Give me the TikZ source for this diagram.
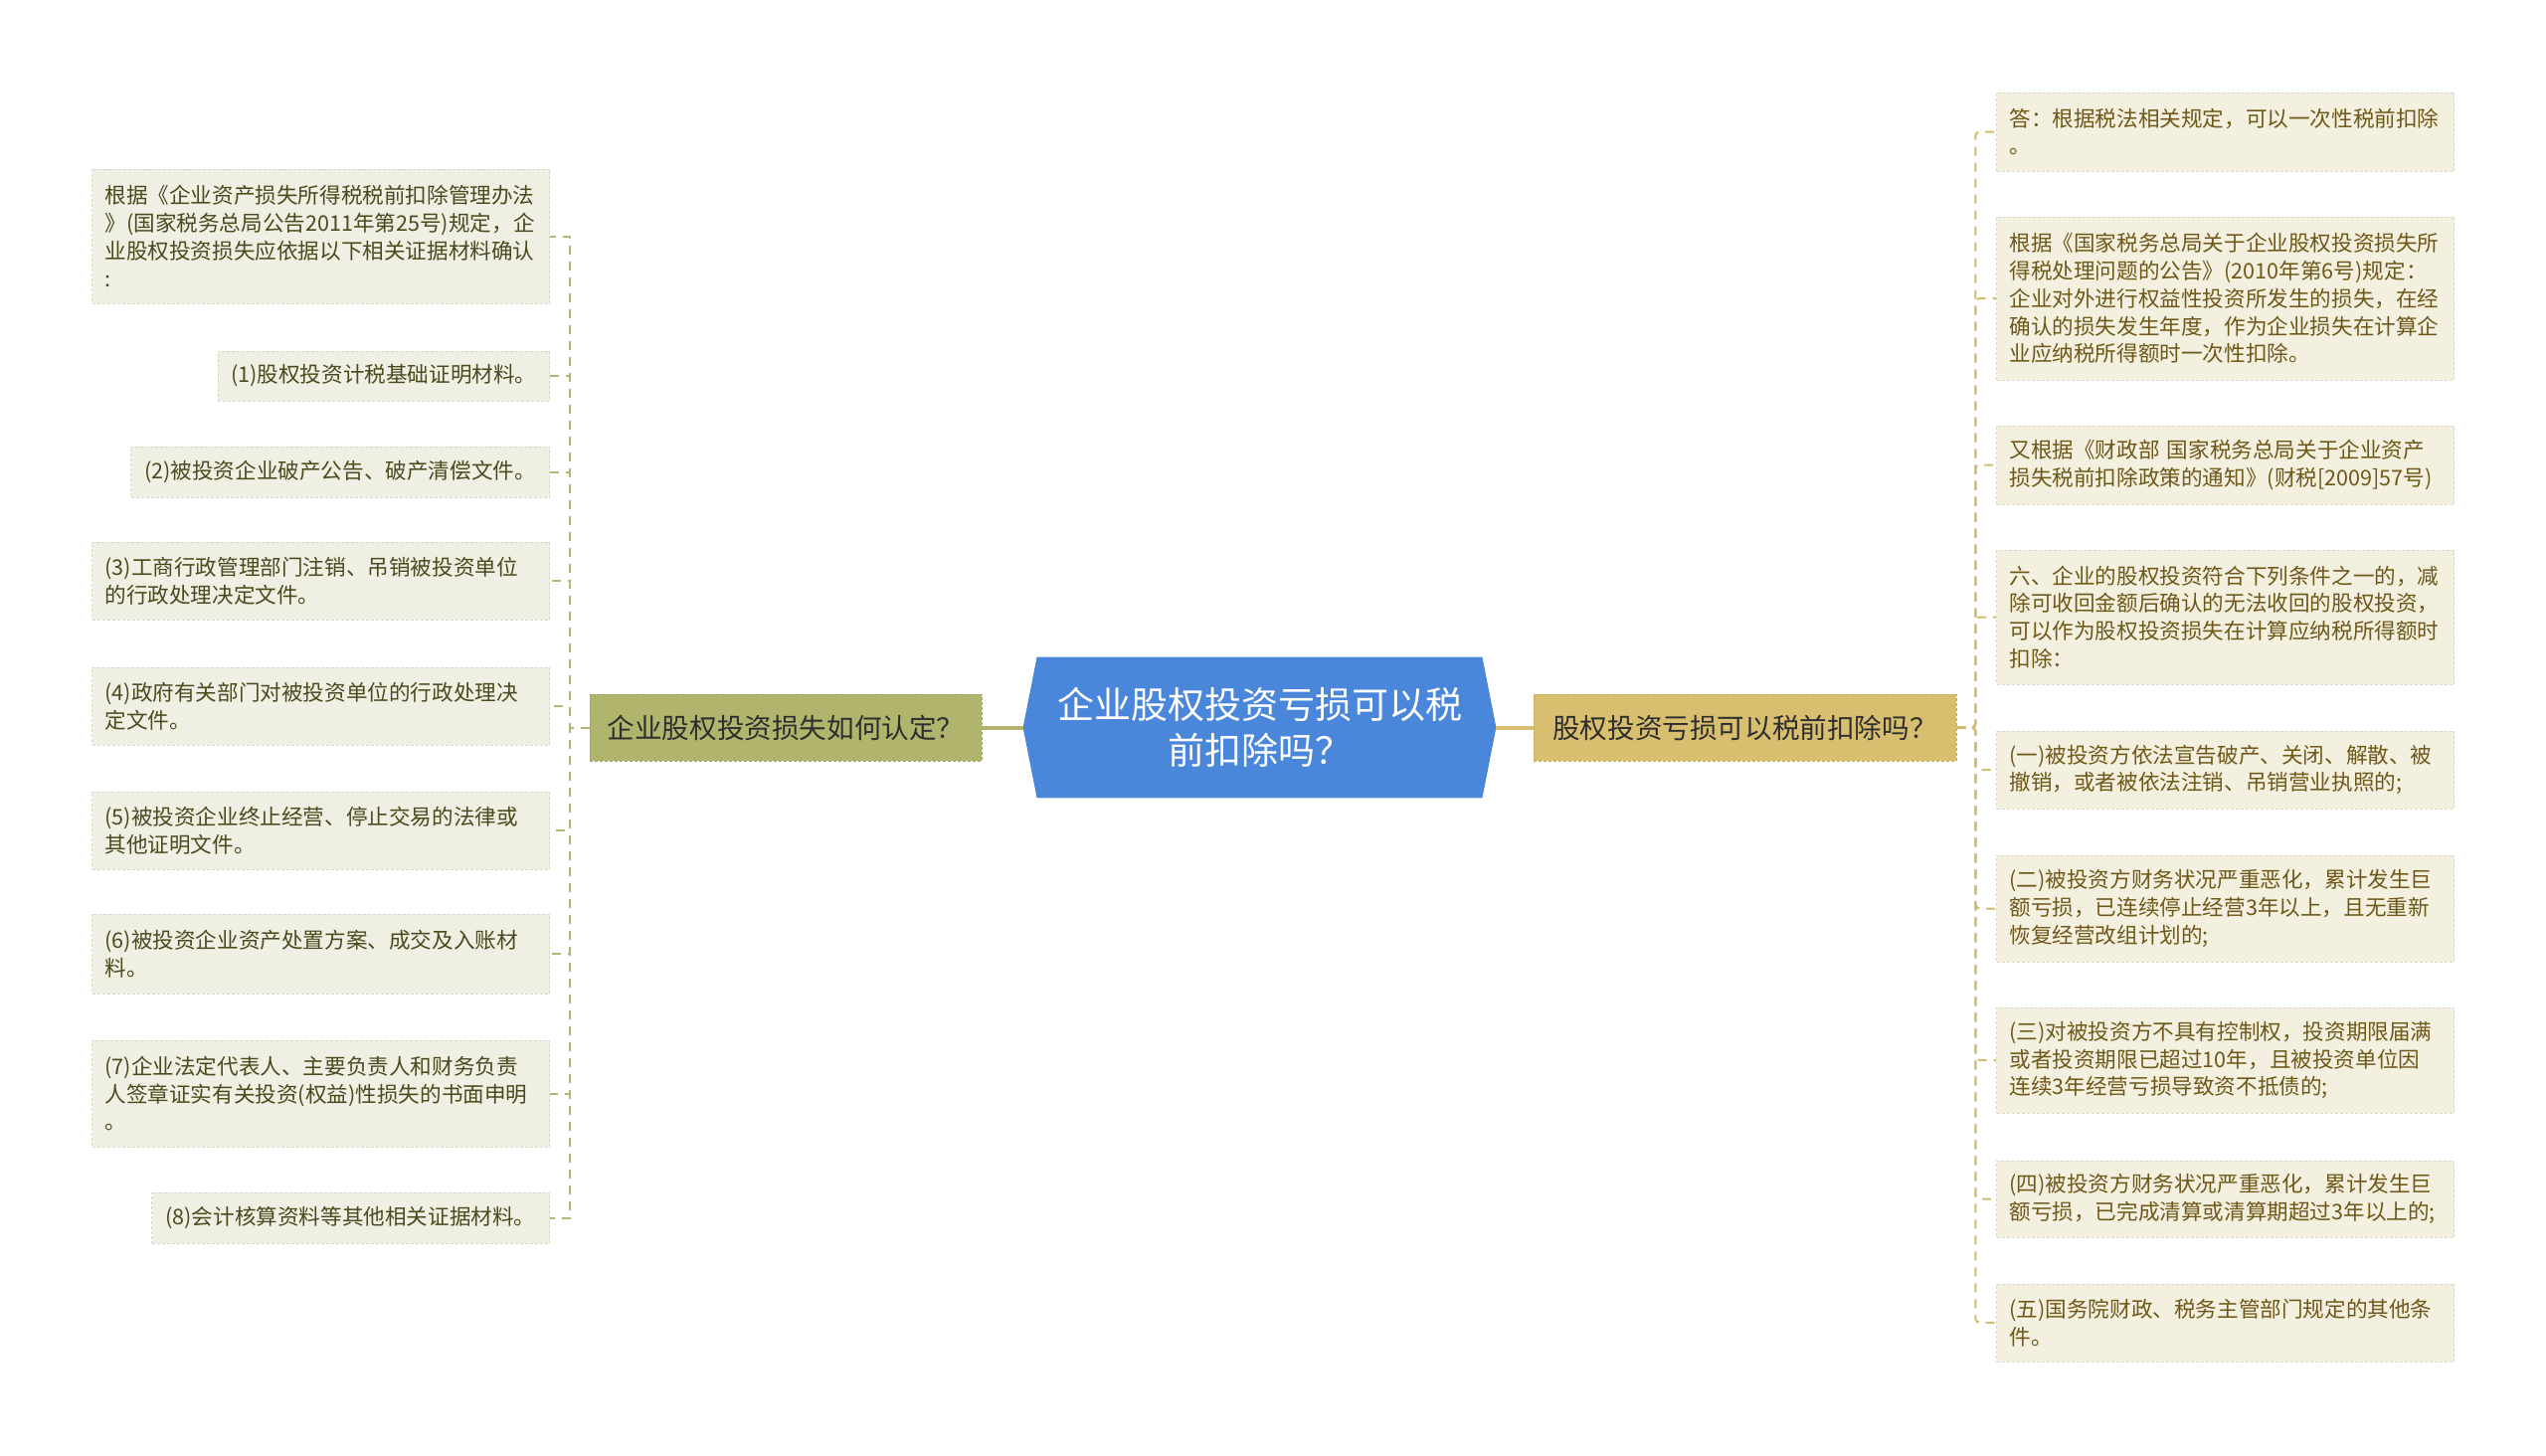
\documentclass[tikz,border=0pt]{standalone}
\usepackage{fontspec}
\setmainfont{Noto Sans CJK SC}
\usetikzlibrary{backgrounds}
\definecolor{centre}{HTML}{4A86DA}
\definecolor{olive1}{HTML}{B0B46C}
\definecolor{gold1}{HTML}{D8BF70}
\definecolor{leafL}{HTML}{EFEFE3}
\definecolor{leafR}{HTML}{F4F0DF}
\definecolor{textL}{HTML}{4A4A1E}
\definecolor{textR}{HTML}{6E5819}
\definecolor{lineL}{HTML}{B3B66E}
\definecolor{lineR}{HTML}{D3BC6C}

\begin{document}
\begin{tikzpicture}[
    x=0.5pt, y=-0.5pt,
    leaf/.style={fill=#1, draw=#1!90!black, dash pattern=on 1.5pt off 1pt,
      line width=0.5pt, align=left, inner xsep=6.5pt, inner ysep=0pt,
      font=\fontsize{10.8pt}{13.9pt}\selectfont},
    lleaf/.style={leaf=leafL, anchor=east, text=textL},
    rleaf/.style={leaf=leafR, anchor=west, text=textR},
    wide/.style={text width=217pt},
    branch/.style={draw=#1!90!black, fill=#1, dash pattern=on 1.5pt off 1pt,
      minimum height=33.5pt, inner xsep=5pt, text=black!82,
      font=\fontsize{13.8pt}{16pt}\selectfont},
    lconn/.style={draw=lineL, line width=1pt, dash pattern=on 4.5pt off 3.5pt},
    rconn/.style={draw=lineR, line width=1pt, dash pattern=on 4.5pt off 3.5pt,
      rounded corners=2pt}
  ]
  \useasboundingbox (0,0) rectangle (2560,1463);

  % centre and the two questions
  \node[text=white, align=center, minimum width=237.5pt, minimum height=70.5pt,
    font=\fontsize{18.5pt}{23pt}\selectfont] (c) at (1266.5,731.5)
    {企业股权投资亏损可以税\\前扣除吗？};
  \begin{scope}[on background layer]
    \fill[centre] ([xshift=7pt]c.north west) -- ([xshift=-7pt]c.north east)
      -- (c.east) -- ([xshift=-7pt]c.south east)
      -- ([xshift=7pt]c.south west) -- (c.west) -- cycle;
  \end{scope}
  \node[branch=olive1, minimum width=197pt] (lb) at (790,731.5)
    {企业股权投资损失如何认定？};
  \node[branch=gold1, minimum width=212.5pt] (rb) at (1754.5,731.5)
    {股权投资亏损可以税前扣除吗？};
  \draw[line width=2pt, olive1] (lb) -- (c);
  \draw[line width=2pt, gold1] (c) -- (rb);

  % left side
  \node[lleaf, wide, minimum height=67.5pt] (l0) at (553,237.5)
    {根据《企业资产损失所得税税前扣除管理办法\\》(国家税务总局公告2011年第25号)规定，企\\业股权投资损失应依据以下相关证据材料确认\\:};
  \node[lleaf, minimum width=165pt, minimum height=25pt] (l1) at (553,378)
    {(1)股权投资计税基础证明材料。};
  \node[lleaf, minimum width=210.5pt, minimum height=25.5pt] (l2) at (553,474.5)
    {(2)被投资企业破产公告、破产清偿文件。};
  \node[lleaf, wide, minimum height=39pt] (l3) at (553,584)
    {(3)工商行政管理部门注销、吊销被投资单位\\的行政处理决定文件。};
  \node[lleaf, wide, minimum height=39pt] (l4) at (553,710)
    {(4)政府有关部门对被投资单位的行政处理决\\定文件。};
  \node[lleaf, wide, minimum height=39pt] (l5) at (553,835)
    {(5)被投资企业终止经营、停止交易的法律或\\其他证明文件。};
  \node[lleaf, wide, minimum height=40pt] (l6) at (553,959)
    {(6)被投资企业资产处置方案、成交及入账材\\料。};
  \node[lleaf, wide, minimum height=53.5pt] (l7) at (553,1099.5)
    {(7)企业法定代表人、主要负责人和财务负责\\人签章证实有关投资(权益)性损失的书面申明\\。};
  \node[lleaf, minimum width=200pt, minimum height=25.5pt] (l8) at (553,1224.5)
    {(8)会计核算资料等其他相关证据材料。};
  \foreach \n in {l0,l1,l2,l3,l4,l5,l6,l7,l8}
    \draw[lconn] (lb.west) -- ++(-20,0) |- (\n.east);

  % right side
  \node[rleaf, wide, minimum height=39.5pt] (r0) at (2007,132.5)
    {答：根据税法相关规定，可以一次性税前扣除\\。};
  \node[rleaf, wide, minimum height=82pt] (r1) at (2007,300)
    {根据《国家税务总局关于企业股权投资损失所\\得税处理问题的公告》(2010年第6号)规定：\\企业对外进行权益性投资所发生的损失，在经\\确认的损失发生年度，作为企业损失在计算企\\业应纳税所得额时一次性扣除。};
  \node[rleaf, wide, minimum height=39.5pt] (r2) at (2007,467.5)
    {又根据《财政部 国家税务总局关于企业资产\\损失税前扣除政策的通知》(财税[2009]57号)};
  \node[rleaf, wide, minimum height=67.5pt] (r3) at (2007,620.5)
    {六、企业的股权投资符合下列条件之一的，减\\除可收回金额后确认的无法收回的股权投资，\\可以作为股权投资损失在计算应纳税所得额时\\扣除：};
  \node[rleaf, wide, minimum height=39pt] (r4) at (2007,774)
    {(一)被投资方依法宣告破产、关闭、解散、被\\撤销，或者被依法注销、吊销营业执照的;};
  \node[rleaf, wide, minimum height=53.5pt] (r5) at (2007,913.5)
    {(二)被投资方财务状况严重恶化，累计发生巨\\额亏损，已连续停止经营3年以上，且无重新\\恢复经营改组计划的;};
  \node[rleaf, wide, minimum height=53pt] (r6) at (2007,1066)
    {(三)对被投资方不具有控制权，投资期限届满\\或者投资期限已超过10年，且被投资单位因\\连续3年经营亏损导致资不抵债的;};
  \node[rleaf, wide, minimum height=38.5pt] (r7) at (2007,1205.5)
    {(四)被投资方财务状况严重恶化，累计发生巨\\额亏损，已完成清算或清算期超过3年以上的;};
  \node[rleaf, wide, minimum height=39pt] (r8) at (2007,1330)
    {(五)国务院财政、税务主管部门规定的其他条\\件。};
  \foreach \n in {r0,r1,r2,r3,r4,r5,r6,r7,r8}
    \draw[rconn] (rb.east) -- ++(19,0) |- (\n.west);
\end{tikzpicture}
\end{document}
